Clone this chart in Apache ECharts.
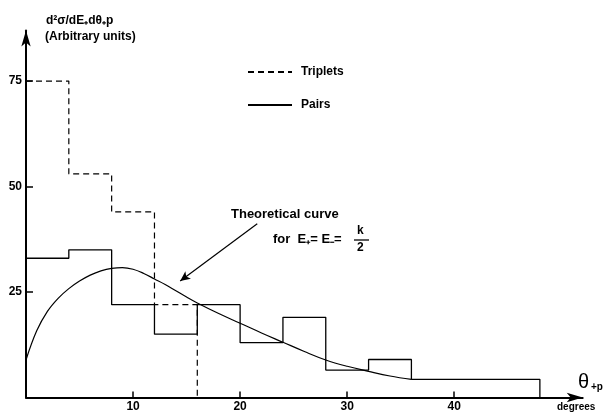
<!DOCTYPE html>
<html>
<head>
<meta charset="utf-8">
<script src="https://cdn.jsdelivr.net/npm/echarts@6/dist/echarts.min.js"></script>
<style>
  html, body { margin: 0; padding: 0; background: #fff; }
  #chart { width: 609px; height: 414px; }
</style>
</head>
<body>
<div id="chart"></div>
<script>
// Histogram bin edges (degrees) and heights (arbitrary units)
const tripletEdges = [0, 4, 8, 12, 16];
const tripletValues = [75, 53, 44, 22];
const pairEdges = [0, 4, 8, 12, 16, 20, 24, 28, 32, 36, 48];
const pairValues = [33, 35, 22, 15, 22, 13, 19, 6.5, 9, 4.3];

// Theoretical curve for E+ = E- = k/2
const curveAngles = [0, 1, 2, 3, 4, 5, 6, 7, 8, 9, 10, 11, 12, 13, 14, 15, 16, 18, 20, 22, 24, 26, 28, 30, 32, 34, 36];
const curveValues = [8.9, 15.8, 20.4, 23.5, 25.8, 27.6, 29, 30, 30.6, 30.8, 30.4, 29.4, 28.1, 26.8, 25.3, 23.8, 22.4, 19.9, 17.6, 15.3, 13.1, 10.9, 8.9, 7.4, 6.2, 5.1, 4.3];

const xTicks = [10, 20, 30, 40];
const yTicks = [25, 50, 75];

// Turn bin edges + heights into an outlined step path
function stepPath(edges, values) {
  const pts = [];
  for (let i = 0; i < values.length; i++) {
    pts.push([edges[i], values[i]]);
    pts.push([edges[i + 1], values[i]]);
  }
  pts.push([edges[edges.length - 1], 0]);
  return pts;
}

const FONT = '"Liberation Sans", Arial, sans-serif';
const chart = echarts.init(document.getElementById('chart'));

chart.setOption({
  animation: false,
  backgroundColor: '#fff',
  grid: { left: 26, right: 26.3, top: 30.4, bottom: 16.5 },
  xAxis: {
    type: 'value', min: 0, max: 52, interval: 10,
    axisLine: { show: true, symbol: ['none', 'arrow'], symbolSize: [7, 16], lineStyle: { color: '#000', width: 2 } },
    axisTick: { show: true, inside: true, length: 6, customValues: xTicks, lineStyle: { color: '#000', width: 1.5 } },
    axisLabel: { customValues: xTicks, color: '#000', fontFamily: FONT, fontWeight: 'bold', fontSize: 12, margin: 3 },
    splitLine: { show: false }
  },
  yAxis: {
    type: 'value', min: 0, max: 87, interval: 25,
    axisLine: { show: true, symbol: ['none', 'arrow'], symbolSize: [7, 16], lineStyle: { color: '#000', width: 2 } },
    axisTick: { show: true, inside: true, length: 7, customValues: yTicks, lineStyle: { color: '#000', width: 1.5 } },
    axisLabel: { customValues: yTicks, color: '#000', fontFamily: FONT, fontWeight: 'bold', fontSize: 12, margin: 4 },
    splitLine: { show: false }
  },
  legend: {
    data: ['Triplets', 'Pairs'],
    orient: 'vertical',
    left: 242, top: 61,
    itemWidth: 44, itemHeight: 10, itemGap: 21,
    itemStyle: { opacity: 0 },
    textStyle: { color: '#000', fontFamily: FONT, fontWeight: 'bold', fontSize: 12, padding: [0, 0, 0, 4] },
    selectedMode: false
  },
  series: [
    {
      name: 'Triplets', type: 'line', data: stepPath(tripletEdges, tripletValues),
      symbol: 'none', lineStyle: { color: '#000', width: 1.2, type: [6, 4] }, itemStyle: { color: '#000' }
    },
    {
      name: 'Pairs', type: 'line', data: stepPath(pairEdges, pairValues),
      symbol: 'none', lineStyle: { color: '#000', width: 1.3 }, itemStyle: { color: '#000' }
    },
    {
      name: 'Theory', type: 'line', smooth: 0.4,
      data: curveAngles.map((a, i) => [a, curveValues[i]]),
      symbol: 'none', lineStyle: { color: '#000', width: 1.2 },
      markLine: {
        silent: true, symbol: ['none', 'arrow'], symbolSize: [7, 10],
        lineStyle: { color: '#000', width: 1.2, type: 'solid' },
        label: { show: false },
        data: [[{ coord: [21.6, 41.2] }, { coord: [14.4, 27.6] }]]
      }
    }
  ],
  graphic: [
    { type: 'text', left: 46, top: 15, style: { text: 'd²σ/dE₊dθ₊p', fill: '#000', font: 'bold 12px ' + FONT } },
    { type: 'text', left: 45, top: 31, style: { text: '(Arbitrary units)', fill: '#000', font: 'bold 12px ' + FONT } },
    { type: 'text', left: 231, top: 208, style: { text: 'Theoretical curve', fill: '#000', font: 'bold 13px ' + FONT } },
    { type: 'text', left: 273, top: 233, style: { text: 'for  E₊= E₋=', fill: '#000', font: 'bold 13px ' + FONT } },
    { type: 'text', left: 357, top: 225, style: { text: 'k', fill: '#000', font: 'bold 12px ' + FONT } },
    { type: 'line', shape: { x1: 354, y1: 240, x2: 369, y2: 240 }, style: { stroke: '#000', lineWidth: 1.3 } },
    { type: 'text', left: 357, top: 242, style: { text: '2', fill: '#000', font: 'bold 12px ' + FONT } },
    { type: 'text', left: 578, top: 372, style: { text: 'θ', fill: '#000', font: '20px ' + FONT } },
    { type: 'text', left: 591, top: 382, style: { text: '+p', fill: '#000', font: 'bold 10px ' + FONT } },
    { type: 'text', left: 557, top: 402, style: { text: 'degrees', fill: '#000', font: 'bold 10px ' + FONT } }
  ]
});
</script>
</body>
</html>
